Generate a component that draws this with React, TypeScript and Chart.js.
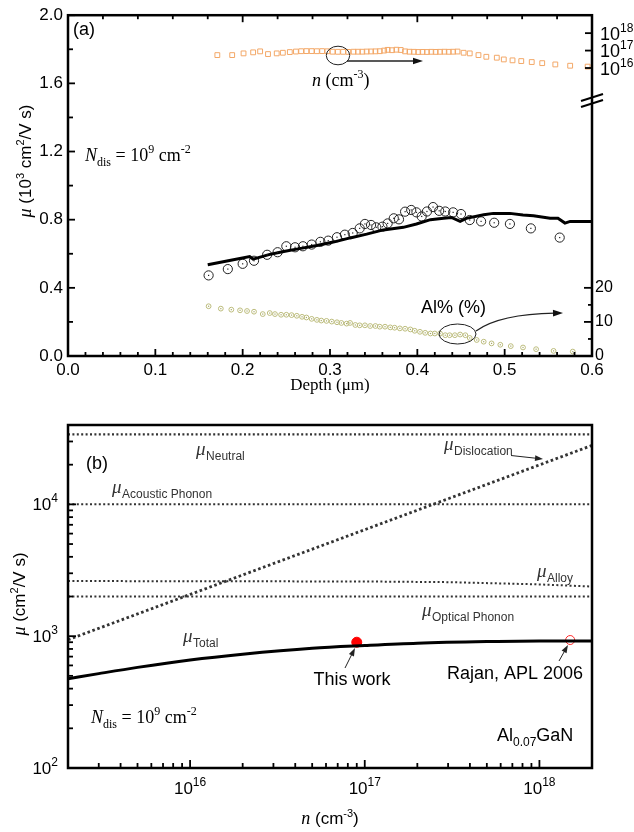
import React, { useEffect, useRef } from "react";
import { Chart, registerables } from "chart.js";
Chart.register(...registerables);

const SANS = '"Liberation Sans", Arial, Helvetica, sans-serif';
const SERIF = '"Liberation Serif", "Times New Roman", serif';

// ---------------- Panel (a) data ----------------
const lineDepth = [0.160, 0.185, 0.208, 0.212, 0.230, 0.247, 0.265, 0.285, 0.305, 0.323, 0.342, 0.361, 0.384, 0.399, 0.415, 0.430, 0.439, 0.449, 0.456, 0.476, 0.487, 0.506, 0.521, 0.533, 0.552, 0.561, 0.569, 0.575, 0.600];
const lineMu = [0.535, 0.560, 0.584, 0.568, 0.595, 0.613, 0.630, 0.648, 0.670, 0.693, 0.715, 0.740, 0.755, 0.775, 0.800, 0.808, 0.813, 0.790, 0.808, 0.829, 0.837, 0.837, 0.827, 0.823, 0.808, 0.808, 0.780, 0.790, 0.790];

const circDepth = [0.161, 0.183, 0.200, 0.213, 0.228, 0.240, 0.250, 0.260, 0.269, 0.279, 0.289, 0.298, 0.308, 0.317, 0.326, 0.334, 0.340, 0.347, 0.353, 0.360, 0.366, 0.373, 0.379, 0.386, 0.393, 0.399, 0.405, 0.411, 0.418, 0.425, 0.432, 0.441, 0.450, 0.460, 0.473, 0.488, 0.506, 0.530, 0.563];
const circMu = [0.473, 0.510, 0.541, 0.559, 0.594, 0.609, 0.644, 0.638, 0.644, 0.654, 0.670, 0.677, 0.697, 0.712, 0.722, 0.749, 0.775, 0.769, 0.755, 0.759, 0.778, 0.808, 0.802, 0.847, 0.857, 0.843, 0.819, 0.848, 0.874, 0.852, 0.848, 0.843, 0.833, 0.798, 0.790, 0.782, 0.775, 0.749, 0.695];

const nDepth = [0.171, 0.188, 0.201, 0.212, 0.220, 0.229, 0.239, 0.246, 0.254, 0.261, 0.267, 0.273, 0.279, 0.285, 0.291, 0.297, 0.303, 0.309, 0.315, 0.321, 0.327, 0.332, 0.337, 0.342, 0.347, 0.352, 0.357, 0.362, 0.366, 0.371, 0.376, 0.381, 0.386, 0.391, 0.396, 0.401, 0.406, 0.411, 0.416, 0.421, 0.426, 0.431, 0.436, 0.441, 0.446, 0.453, 0.460, 0.470, 0.479, 0.491, 0.499, 0.509, 0.519, 0.531, 0.543, 0.558, 0.575, 0.595];
const nValue = [5.5e16, 5.5e16, 6.9e16, 7.9e16, 9.0e16, 6.3e16, 6.9e16, 7.5e16, 8.2e16, 8.8e16, 9.2e16, 9.3e16, 9.3e16, 9.2e16, 9.3e16, 9.1e16, 8.6e16, 8.5e16, 8.5e16, 8.4e16, 8.6e16, 8.6e16, 8.6e16, 8.8e16, 8.9e16, 9.0e16, 9.2e16, 1.0e17, 1.1e17, 1.05e17, 1.12e17, 1.08e17, 9.0e16, 8.6e16, 8.5e16, 8.3e16, 8.4e16, 8.3e16, 8.5e16, 8.4e16, 8.5e16, 8.6e16, 8.5e16, 8.6e16, 8.8e16, 7.5e16, 6.9e16, 5.5e16, 4.4e16, 3.9e16, 3.1e16, 2.75e16, 2.5e16, 2.2e16, 1.9e16, 1.6e16, 1.35e16, 1.2e16];

const alDepth = [0.161, 0.175, 0.187, 0.197, 0.205, 0.213, 0.223, 0.231, 0.237, 0.244, 0.250, 0.256, 0.262, 0.268, 0.273, 0.279, 0.285, 0.290, 0.296, 0.302, 0.308, 0.313, 0.319, 0.323, 0.329, 0.334, 0.340, 0.346, 0.352, 0.357, 0.363, 0.369, 0.374, 0.380, 0.386, 0.392, 0.397, 0.403, 0.409, 0.415, 0.420, 0.426, 0.432, 0.437, 0.443, 0.449, 0.455, 0.460, 0.468, 0.476, 0.485, 0.495, 0.507, 0.521, 0.536, 0.556, 0.578];
const alValue = [14.6, 13.9, 13.6, 13.4, 13.2, 13.0, 12.3, 12.6, 12.3, 12.1, 12.1, 12.0, 11.8, 11.5, 11.3, 10.9, 10.6, 10.4, 10.3, 10.1, 9.9, 9.7, 9.5, 9.7, 9.1, 9.0, 9.0, 8.8, 8.8, 8.6, 8.6, 8.4, 8.3, 8.1, 8.0, 7.8, 7.4, 7.1, 6.8, 6.6, 6.6, 6.6, 6.1, 6.1, 6.1, 6.3, 6.1, 5.3, 4.7, 4.2, 3.7, 3.3, 2.9, 2.5, 2.0, 1.5, 1.3];

const nTickExponents = [16, 17, 18];
const alTickLabels = [0, 10, 20];
const alMinorTicks = [5, 15];

// ---------------- Panel (b) data ----------------
const bXDecades = [16, 17, 18];
const bYDecades = [2, 3, 4];

const neutralN = [2e15, 2e18];
const neutralMu = [34000, 34000];
const acousticN = [2e15, 2e18];
const acousticMu = [10000, 10000];
const dislocationN = [2e15, 2e18];
const dislocationMu = [940, 28000];
const alloyN = [2e15, 1e17, 3e17, 7e17, 1e18, 2e18];
const alloyMu = [2620, 2600, 2570, 2500, 2470, 2380];
const opticalN = [2e15, 2e18];
const opticalMu = [2000, 2000];
const totalN = [2e15, 3e15, 5e15, 1e16, 2e16, 5e16, 1e17, 2e17, 5e17, 1e18, 2e18];
const totalMu = [475, 520, 580, 660, 730, 810, 850, 885, 910, 920, 920];
const thisWorkN = [9e16];
const thisWorkMu = [900];
const rajanN = [1.5e18];
const rajanMu = [935];

const zip = (xs: number[], ys: number[]) => xs.map((x, i) => ({ x, y: ys[i] }));

type Seg = { t: string; f: string; dy?: number; dx?: number };
function drawRich(ctx: CanvasRenderingContext2D, segs: Seg[], x: number, y: number, align: "left" | "center" | "right" = "left", color = "#000") {
  ctx.save();
  ctx.textBaseline = "alphabetic";
  ctx.textAlign = "left";
  ctx.fillStyle = color;
  let w = 0;
  for (const s of segs) { ctx.font = s.f; w += ctx.measureText(s.t).width + (s.dx ?? 0); }
  let cx = align === "left" ? x : align === "center" ? x - w / 2 : x - w;
  for (const s of segs) {
    ctx.font = s.f;
    cx += s.dx ?? 0;
    ctx.fillText(s.t, cx, y + (s.dy ?? 0));
    cx += ctx.measureText(s.t).width;
  }
  ctx.restore();
}

function arrowHead(ctx: CanvasRenderingContext2D, x2: number, y2: number, ang: number, len = 9, half = 3.2) {
  ctx.beginPath();
  ctx.moveTo(x2, y2);
  ctx.lineTo(x2 - len * Math.cos(ang) + half * Math.sin(ang), y2 - len * Math.sin(ang) - half * Math.cos(ang));
  ctx.lineTo(x2 - len * Math.cos(ang) - half * Math.sin(ang), y2 - len * Math.sin(ang) + half * Math.cos(ang));
  ctx.closePath();
  ctx.fill();
}
function arrow(ctx: CanvasRenderingContext2D, x1: number, y1: number, x2: number, y2: number, len = 9, half = 3.2) {
  const a = Math.atan2(y2 - y1, x2 - x1);
  ctx.beginPath();
  ctx.moveTo(x1, y1);
  ctx.lineTo(x2 - Math.cos(a) * len * 0.7, y2 - Math.sin(a) * len * 0.7);
  ctx.stroke();
  arrowHead(ctx, x2, y2, a, len, half);
}
function tick(ctx: CanvasRenderingContext2D, x1: number, y1: number, x2: number, y2: number) {
  ctx.beginPath(); ctx.moveTo(x1, y1); ctx.lineTo(x2, y2); ctx.stroke();
}

const f = (style: string, size: number, fam: string) => `${style} ${size}px ${fam}`;

const panelAPlugin = {
  id: "panelA",
  afterDraw(chart: any) {
    const ctx: CanvasRenderingContext2D = chart.ctx;
    const { left, right, top, bottom } = chart.chartArea;
    const xs = chart.scales.x, ys = chart.scales.y, ya = chart.scales.yAl, yn = chart.scales.yN;
    ctx.save();
    // center dots of open circles
    [1, 3].forEach((di) => {
      const meta = chart.getDatasetMeta(di);
      ctx.fillStyle = di === 1 ? "#a8a868" : "#222";
      meta.data.forEach((el: any) => { ctx.fillRect(el.x - 0.6, el.y - 0.6, 1.2, 1.2); });
    });
    // frame
    ctx.strokeStyle = "#000";
    ctx.lineWidth = 2.5;
    ctx.strokeRect(left, top, right - left, bottom - top);
    ctx.lineWidth = 1.8;
    for (let i = 0; i <= 30; i++) {
      const px = xs.getPixelForValue(i * 0.02);
      tick(ctx, px, bottom, px, bottom - (i % 5 === 0 ? 7 : 4));
    }
    for (let i = 0; i <= 15; i++) {
      const px = xs.getPixelForValue(i * 0.04);
      tick(ctx, px, top, px, top + (i % 5 === 0 ? 7 : 4));
    }
    for (let i = 0; i <= 10; i++) {
      const py = ys.getPixelForValue(i * 0.2);
      tick(ctx, left, py, left + (i % 2 === 0 ? 7 : 5), py);
    }
    alTickLabels.forEach((v) => { const py = ya.getPixelForValue(v); tick(ctx, right, py, right - 8, py); });
    alMinorTicks.forEach((v) => { const py = ya.getPixelForValue(v); tick(ctx, right, py, right - 4, py); });
    nTickExponents.forEach((e) => { const py = yn.getPixelForValue(Math.pow(10, e)); tick(ctx, right, py, right - 7, py); });
    // axis break
    ctx.lineWidth = 2;
    tick(ctx, right - 11, 101, right + 11, 94);
    tick(ctx, right - 11, 107, right + 11, 100);
    // right labels
    ctx.fillStyle = "#000";
    ctx.textBaseline = "middle";
    ctx.textAlign = "left";
    ctx.font = f("", 16, SANS);
    alTickLabels.forEach((v) => { ctx.fillText(String(v), right + 3, ya.getPixelForValue(v)); });
    nTickExponents.forEach((e) => {
      const py = yn.getPixelForValue(Math.pow(10, e));
      drawRich(ctx, [{ t: "10", f: f("", 18, SANS) }, { t: String(e), f: f("", 12, SANS), dy: -8 }], right + 8, py + 6.5);
    });
    // y title
    ctx.save();
    ctx.translate(31, 161);
    ctx.rotate(-Math.PI / 2);
    drawRich(ctx, [
      { t: "\u03bc", f: f("italic", 18, SERIF) },
      { t: " (10", f: f("", 17, SANS) },
      { t: "3", f: f("", 11, SANS), dy: -7 },
      { t: " cm", f: f("", 17, SANS) },
      { t: "2", f: f("", 11, SANS), dy: -7 },
      { t: "/V s)", f: f("", 17, SANS) },
    ], 0, 0, "center");
    ctx.restore();
    drawRich(ctx, [{ t: "Depth (\u03bcm)", f: f("", 17, SERIF) }], (left + right) / 2, 390, "center");
    drawRich(ctx, [{ t: "(a)", f: f("", 18, SANS) }], 73, 35);
    drawRich(ctx, [
      { t: "N", f: f("italic", 18, SERIF) },
      { t: "dis", f: f("", 12, SERIF), dy: 5 },
      { t: " = 10", f: f("", 18, SERIF) },
      { t: "9", f: f("", 12, SERIF), dy: -8 },
      { t: " cm", f: f("", 18, SERIF) },
      { t: "-2", f: f("", 12, SERIF), dy: -8 },
    ], 85, 161);
    // n (cm-3) annotation
    ctx.strokeStyle = "#222";
    ctx.fillStyle = "#111";
    ctx.lineWidth = 1;
    ctx.beginPath();
    ctx.ellipse(338, 55.5, 11.7, 9.3, 0, 0, Math.PI * 2);
    ctx.stroke();
    ctx.lineWidth = 1.3;
    arrow(ctx, 347, 61, 423, 61, 10, 3.3);
    drawRich(ctx, [
      { t: "n", f: f("italic", 18, SERIF) },
      { t: " (cm", f: f("", 18, SERIF) },
      { t: "-3", f: f("", 12, SERIF), dy: -8 },
      { t: ")", f: f("", 18, SERIF) },
    ], 312, 86);
    // Al% annotation
    drawRich(ctx, [{ t: "Al% (%)", f: f("", 18, SANS) }], 421, 313);
    ctx.lineWidth = 1;
    ctx.beginPath();
    ctx.ellipse(457.5, 334, 18.5, 10, 0, 0, Math.PI * 2);
    ctx.stroke();
    ctx.lineWidth = 1.3;
    ctx.beginPath();
    ctx.moveTo(476, 331);
    ctx.quadraticCurveTo(500, 314, 555, 313.2);
    ctx.stroke();
    arrowHead(ctx, 563, 313, Math.atan2(-1, 63), 10, 3.3);
    ctx.restore();
  },
};

const OFF = 400;
const panelBPlugin = {
  id: "panelB",
  afterDraw(chart: any) {
    const ctx: CanvasRenderingContext2D = chart.ctx;
    const { left, right, top, bottom } = chart.chartArea;
    const xs = chart.scales.x, ys = chart.scales.y;
    ctx.save();
    ctx.strokeStyle = "#000";
    ctx.lineWidth = 2.5;
    ctx.strokeRect(left, top, right - left, bottom - top);
    ctx.lineWidth = 1.8;
    for (let d = 15; d <= 18; d++) {
      for (let m = 1; m <= 9; m++) {
        const v = m * Math.pow(10, d);
        if (v < xs.min * 0.999 || v > xs.max * 1.001) continue;
        const px = xs.getPixelForValue(v);
        tick(ctx, px, bottom, px, bottom - (m === 1 ? 8 : 5));
      }
    }
    for (let d = 2; d <= 4; d++) {
      for (let m = 1; m <= 9; m++) {
        const v = m * Math.pow(10, d);
        if (v < ys.min * 0.999 || v > ys.max * 1.001) continue;
        const py = ys.getPixelForValue(v);
        tick(ctx, left, py, left + (m === 1 ? 8 : 5), py);
      }
    }
    bXDecades.forEach((e) => {
      const px = xs.getPixelForValue(Math.pow(10, e));
      drawRich(ctx, [{ t: "10", f: f("", 17, SANS) }, { t: String(e), f: f("", 12, SANS), dy: -8 }], px, 794 - OFF, "center");
    });
    bYDecades.forEach((e) => {
      const py = ys.getPixelForValue(Math.pow(10, e));
      drawRich(ctx, [{ t: "10", f: f("", 17, SANS) }, { t: String(e), f: f("", 12, SANS), dy: -8 }], 58, py + 6, "right");
    });
    drawRich(ctx, [
      { t: "n", f: f("italic", 18, SERIF) },
      { t: " (cm", f: f("", 17, SANS) },
      { t: "-3", f: f("", 11, SANS), dy: -7 },
      { t: ")", f: f("", 17, SANS) },
    ], (left + right) / 2, 824 - OFF, "center");
    ctx.save();
    ctx.translate(25, 594 - OFF);
    ctx.rotate(-Math.PI / 2);
    drawRich(ctx, [
      { t: "\u03bc", f: f("italic", 18, SERIF) },
      { t: " (cm", f: f("", 17, SANS) },
      { t: "2", f: f("", 11, SANS), dy: -7 },
      { t: "/V s)", f: f("", 17, SANS) },
    ], 0, 0, "center");
    ctx.restore();
    const mu = (label: string, x: number, y: number) => {
      drawRich(ctx, [
        { t: "\u03bc", f: f("italic", 19, SERIF) },
        { t: label, f: f("", 12, SANS), dy: 5, dx: 0.5 },
      ], x, y - OFF, "left", "#333");
    };
    drawRich(ctx, [{ t: "(b)", f: f("", 18, SANS) }], 86, 469 - OFF);
    mu("Neutral", 196, 455);
    mu("Acoustic Phonon", 112, 493);
    mu("Dislocation", 444, 450);
    mu("Alloy", 537, 577);
    mu("Optical Phonon", 422, 616);
    mu("Total", 183, 642);
    ctx.strokeStyle = "#222";
    ctx.fillStyle = "#222";
    ctx.lineWidth = 1;
    arrow(ctx, 511, 455.5 - OFF, 543, 459 - OFF, 8, 2.8);
    arrow(ctx, 345, 668 - OFF, 355, 648 - OFF, 8, 2.8);
    arrow(ctx, 559, 661 - OFF, 568, 645 - OFF, 8, 2.8);
    drawRich(ctx, [{ t: "This work", f: f("", 18, SANS) }], 352, 685 - OFF, "center");
    drawRich(ctx, [{ t: "Rajan, APL 2006", f: f("", 18, SANS) }], 515, 679 - OFF, "center");
    drawRich(ctx, [
      { t: "N", f: f("italic", 18, SERIF) },
      { t: "dis", f: f("", 12, SERIF), dy: 5 },
      { t: " = 10", f: f("", 18, SERIF) },
      { t: "9", f: f("", 12, SERIF), dy: -8 },
      { t: " cm", f: f("", 18, SERIF) },
      { t: "-2", f: f("", 12, SERIF), dy: -8 },
    ], 91, 723 - OFF);
    drawRich(ctx, [
      { t: "Al", f: f("", 18, SANS) },
      { t: "0.07", f: f("", 12, SANS), dy: 5 },
      { t: "GaN", f: f("", 18, SANS) },
    ], 497, 741 - OFF);
    ctx.restore();
  },
};

const dotted = (w: number, dash: number[]) => ({
  showLine: true, pointRadius: 0, borderColor: "#333", borderWidth: w, borderDash: dash, borderCapStyle: "butt", fill: false,
});

export default function App() {
  const refA = useRef<HTMLCanvasElement>(null);
  const refB = useRef<HTMLCanvasElement>(null);
  useEffect(() => {
    const common = {
      animation: false,
      responsive: false,
      events: [],
      plugins: { legend: { display: false }, tooltip: { enabled: false } },
    };
    const chartA = new Chart(refA.current as HTMLCanvasElement, {
      type: "scatter",
      data: {
        datasets: [
          { data: zip(nDepth, nValue), yAxisID: "yN", pointStyle: "rect", pointRadius: 3.4, borderColor: "#f3a868", borderWidth: 1, backgroundColor: "rgba(0,0,0,0)", showLine: false },
          { data: zip(alDepth, alValue), yAxisID: "yAl", pointStyle: "circle", pointRadius: 2.4, borderColor: "#bcbc7c", borderWidth: 1, backgroundColor: "rgba(0,0,0,0)", showLine: false },
          { data: zip(lineDepth, lineMu), yAxisID: "y", showLine: true, borderColor: "#000", borderWidth: 3, pointRadius: 0 },
          { data: zip(circDepth, circMu), yAxisID: "y", pointStyle: "circle", pointRadius: 4.6, borderColor: "#222", borderWidth: 1, backgroundColor: "rgba(0,0,0,0)", showLine: false },
        ],
      } as any,
      options: {
        ...common,
        layout: { padding: { top: 15, right: 42, left: 0, bottom: 0 } },
        scales: {
          x: {
            type: "linear", position: "bottom", min: 0, max: 0.6,
            ticks: { stepSize: 0.1, callback: (v: any) => Number(v).toFixed(1), font: { family: SANS, size: 17 }, color: "#000", padding: 4, maxRotation: 0, autoSkip: false },
            grid: { display: false, drawTicks: false }, border: { display: false },
            afterFit: (s: any) => { s.height = 44; },
          },
          y: {
            type: "linear", position: "left", min: 0, max: 2,
            ticks: { stepSize: 0.4, callback: (v: any) => Number(v).toFixed(1), font: { family: SANS, size: 17 }, color: "#000", padding: 5 },
            grid: { display: false, drawTicks: false }, border: { display: false },
            afterFit: (s: any) => { s.width = 68; },
          },
          yAl: { type: "linear", display: false, min: 0, max: 100 },
          yN: { type: "logarithmic", display: false, min: 0.349, max: 1.07e19 },
        },
      } as any,
      plugins: [panelAPlugin],
    });
    const chartB = new Chart(refB.current as HTMLCanvasElement, {
      type: "scatter",
      data: {
        datasets: [
          { data: zip(neutralN, neutralMu), ...dotted(2.2, [2, 2.4]) },
          { data: zip(acousticN, acousticMu), ...dotted(2, [2, 2.4]) },
          { data: zip(dislocationN, dislocationMu), ...dotted(2.8, [2.6, 2.6]) },
          { data: zip(alloyN, alloyMu), ...dotted(2, [2, 2.4]) },
          { data: zip(opticalN, opticalMu), ...dotted(2, [2, 2.4]) },
          { data: zip(totalN, totalMu), showLine: true, pointRadius: 0, borderColor: "#000", borderWidth: 3, cubicInterpolationMode: "monotone" },
          { data: zip(thisWorkN, thisWorkMu), pointRadius: 5, backgroundColor: "#ff0000", borderColor: "#ff0000", borderWidth: 1, showLine: false },
          { data: zip(rajanN, rajanMu), pointRadius: 4.5, backgroundColor: "#ffffff", borderColor: "#ff2a2a", borderWidth: 1, showLine: false },
        ],
      } as any,
      options: {
        ...common,
        layout: { padding: { top: 25, right: 42, left: 68, bottom: 64 } },
        scales: {
          x: { type: "logarithmic", display: false, min: 2e15, max: 2e18 },
          y: { type: "logarithmic", display: false, min: 100, max: 4e4 },
        },
      } as any,
      plugins: [panelBPlugin],
    });
    return () => { chartA.destroy(); chartB.destroy(); };
  }, []);
  return (
    <div style={{ position: "absolute", left: 0, top: 0, width: 634, height: 832, background: "#fff" }}>
      <canvas ref={refA} width={634} height={400} style={{ position: "absolute", left: 0, top: 0, display: "block" }} />
      <canvas ref={refB} width={634} height={432} style={{ position: "absolute", left: 0, top: 400, display: "block" }} />
    </div>
  );
}
